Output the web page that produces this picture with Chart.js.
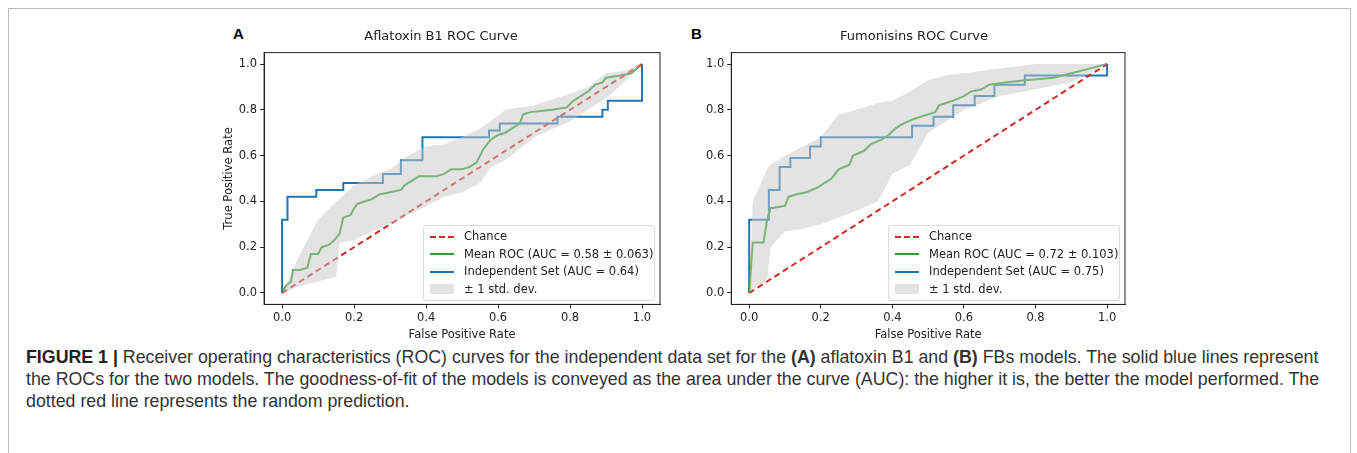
<!DOCTYPE html>
<html>
<head>
<meta charset="utf-8">
<script src="https://cdn.jsdelivr.net/npm/chart.js@4.4.1/dist/chart.umd.min.js"></script>
<style>
  body { margin: 0; width: 1357px; height: 453px; background: #fff; overflow: hidden; font-family: "Liberation Sans", Arial, sans-serif; }
  #frame { position: absolute; left: 8px; top: 8px; width: 1341px; height: 460px; border: 1px solid #bdbdbd; }
  .panel { position: absolute; top: 22px; height: 320px; }
  .tag { position: absolute; top: 25px; font: bold 15px "Liberation Sans", Arial, sans-serif; color: #000; }
  .legend { position: absolute; border: 1px solid #ddd; border-radius: 3px; background: rgba(255,255,255,0.85);
            font: 11.5px "DejaVu Sans", sans-serif; color: #222; padding: 2px 6px; }
  .legend div { height: 17.5px; line-height: 17.5px; white-space: nowrap; }
  .legend span { display: inline-block; width: 24px; margin-right: 10px; vertical-align: middle; }
  #caption { position: absolute; left: 26px; top: 346px; width: 1318px; font-size: 17.8px; line-height: 22px; color: #333; }
</style>
</head>
<body>
<div id="frame"></div>
<div class="tag" style="left:233px">A</div>
<div class="tag" style="left:691px">B</div>
<div class="panel" style="left:222px;width:441px"><canvas id="chartA"></canvas></div>
<div class="panel" style="left:689px;width:439px"><canvas id="chartB"></canvas></div>
<div class="legend" style="left:423px;top:225px;width:218px" id="legA"></div>
<div class="legend" style="left:888px;top:225px;width:218px" id="legB"></div>
<div id="caption"><b style="color:#222">FIGURE 1 |</b> Receiver operating characteristics (ROC) curves for the independent data set for the <b>(A)</b> aflatoxin B1 and <b>(B)</b> FBs models. The solid blue lines represent the ROCs for the two models. The goodness-of-fit of the models is conveyed as the area under the curve (AUC): the higher it is, the better the model performed. The dotted red line represents the random prediction.</div>
<script>
(function () {
    "use strict";

    const chanceX = [0, 1];
    const chanceY = [0, 1];

    // Panel A - aflatoxin B1
    const indepAX = [0, 0, 0.015, 0.015, 0.095, 0.095, 0.17, 0.17, 0.28, 0.28, 0.33, 0.33, 0.39, 0.39, 0.575, 0.575, 0.605, 0.605, 0.765, 0.765, 0.89, 0.89, 0.905, 0.905, 1, 1];
    const indepAY = [0, 0.32, 0.32, 0.42, 0.42, 0.45, 0.45, 0.48, 0.48, 0.52, 0.52, 0.58, 0.58, 0.68, 0.68, 0.71, 0.71, 0.74, 0.74, 0.77, 0.77, 0.80, 0.80, 0.84, 0.84, 1];
    const meanAX = [0, 0.01, 0.025, 0.03, 0.05, 0.07, 0.08, 0.1, 0.11, 0.13, 0.145, 0.16, 0.17, 0.19, 0.2, 0.21, 0.23, 0.25, 0.27, 0.3, 0.33, 0.34, 0.36, 0.38, 0.43, 0.45, 0.47, 0.5, 0.52, 0.54, 0.56, 0.58, 0.6, 0.62, 0.64, 0.66, 0.67, 0.69, 0.75, 0.79, 0.81, 0.83, 0.85, 0.87, 0.89, 0.9, 0.94, 0.97, 1];
    const meanAY = [0, 0.03, 0.05, 0.1, 0.1, 0.11, 0.17, 0.17, 0.2, 0.21, 0.23, 0.26, 0.33, 0.34, 0.37, 0.39, 0.4, 0.41, 0.43, 0.44, 0.45, 0.47, 0.49, 0.51, 0.51, 0.52, 0.54, 0.54, 0.55, 0.57, 0.63, 0.67, 0.69, 0.7, 0.72, 0.74, 0.78, 0.79, 0.8, 0.81, 0.84, 0.86, 0.88, 0.91, 0.92, 0.94, 0.95, 0.96, 1];
    const bandAX = [0, 0.05, 0.1, 0.15, 0.16, 0.2, 0.25, 0.3, 0.35, 0.4, 0.45, 0.5, 0.55, 0.58, 0.62, 0.7, 0.8, 0.85, 0.9, 0.95, 1];
    const bandAUpper = [0, 0.17, 0.32, 0.4, 0.41, 0.47, 0.51, 0.54, 0.6, 0.64, 0.65, 0.68, 0.72, 0.75, 0.8, 0.82, 0.87, 0.9, 0.96, 0.97, 1];
    const bandALower = [0, 0.03, 0.05, 0.07, 0.22, 0.23, 0.27, 0.3, 0.34, 0.38, 0.42, 0.44, 0.48, 0.55, 0.58, 0.68, 0.75, 0.8, 0.85, 0.92, 1];

    // Panel B - fumonisins
    const indepBX = [0, 0, 0.055, 0.055, 0.085, 0.085, 0.115, 0.115, 0.17, 0.17, 0.2, 0.2, 0.455, 0.455, 0.515, 0.515, 0.57, 0.57, 0.63, 0.63, 0.685, 0.685, 0.77, 0.77, 1, 1];
    const indepBY = [0, 0.32, 0.32, 0.45, 0.45, 0.55, 0.55, 0.59, 0.59, 0.64, 0.64, 0.68, 0.68, 0.73, 0.73, 0.77, 0.77, 0.82, 0.82, 0.86, 0.86, 0.91, 0.91, 0.95, 0.95, 1];
    const meanBX = [0, 0.01, 0.04, 0.05, 0.06, 0.1, 0.11, 0.13, 0.16, 0.19, 0.21, 0.23, 0.25, 0.28, 0.29, 0.32, 0.34, 0.37, 0.39, 0.41, 0.43, 0.46, 0.5, 0.52, 0.53, 0.57, 0.6, 0.62, 0.65, 0.67, 0.72, 0.78, 0.85, 0.9, 0.95, 1];
    const meanBY = [0, 0.22, 0.22, 0.32, 0.37, 0.38, 0.42, 0.43, 0.44, 0.46, 0.48, 0.5, 0.54, 0.56, 0.6, 0.62, 0.65, 0.67, 0.69, 0.72, 0.74, 0.76, 0.78, 0.79, 0.82, 0.84, 0.86, 0.88, 0.89, 0.91, 0.92, 0.93, 0.94, 0.96, 0.98, 1];
    const bandBX = [0, 0.01, 0.05, 0.06, 0.1, 0.15, 0.2, 0.25, 0.3, 0.36, 0.4, 0.45, 0.5, 0.55, 0.6, 0.7, 0.8, 0.9, 1];
    const bandBUpper = [0, 0.4, 0.54, 0.56, 0.6, 0.64, 0.68, 0.78, 0.8, 0.83, 0.84, 0.88, 0.93, 0.95, 0.96, 0.98, 1, 1, 1];
    const bandBLower = [0, 0.02, 0.05, 0.2, 0.27, 0.28, 0.3, 0.33, 0.36, 0.4, 0.52, 0.56, 0.7, 0.75, 0.8, 0.86, 0.89, 0.92, 1];

    const tickValues = [0, 0.2, 0.4, 0.6, 0.8, 1.0];

    const red = "#d62728", green = "#2ca02c", blue = "#1f77b4", band = "rgba(200, 200, 200, 0.5)";
    const font = "DejaVu Sans";

    const pts = (xs, ys) => xs.map((x, i) => ({ x, y: ys[i] }));

    const boxPlugin = {
        id: "box",
        afterDraw(chart) {
            const { ctx, chartArea: a } = chart;
            ctx.save();
            ctx.strokeStyle = "#222";
            ctx.lineWidth = 1;
            ctx.strokeRect(a.left, a.top, a.right - a.left, a.bottom - a.top);
            ctx.restore();
        }
    };

    function axis(title) {
        return {
            type: "linear",
            min: -0.05,
            max: 1.05,
            afterBuildTicks: (s) => { s.ticks = tickValues.map((v) => ({ value: v })); },
            ticks: { color: "#222", font: { family: font, size: 11.5 }, callback: (v) => v.toFixed(1), padding: 3 },
            grid: { display: true, drawOnChartArea: false, drawTicks: true, tickLength: 4, color: "#222" },
            border: { display: true, color: "#222" },
            title: { display: !!title, text: title, color: "#222", font: { family: font, size: 11.5 }, padding: { top: 0, bottom: 0 } }
        };
    }

    function makeChart(id, title, yTitle, band_, mean, indep) {
        new Chart(document.getElementById(id), {
            type: "line",
            data: {
                datasets: [
                    { data: pts(band_[0], band_[2]), borderWidth: 0, pointRadius: 0, fill: false },
                    { data: pts(band_[0], band_[1]), borderWidth: 0, pointRadius: 0, fill: "-1", backgroundColor: band },
                    { data: pts(chanceX, chanceY), borderColor: red, borderWidth: 2, borderDash: [6, 4], pointRadius: 0 },
                    { data: pts(mean[0], mean[1]), borderColor: green, borderWidth: 2, pointRadius: 0 },
                    { data: pts(indep[0], indep[1]), borderColor: blue, borderWidth: 2, pointRadius: 0 }
                ]
            },
            plugins: [boxPlugin],
            options: {
                responsive: true,
                maintainAspectRatio: false,
                animation: false,
                layout: { padding: { left: yTitle ? 0 : 14, right: 3, top: 0, bottom: 0 } },
                plugins: {
                    legend: { display: false },
                    tooltip: { enabled: false },
                    title: { display: true, text: title, color: "#222", font: { family: font, size: 13, weight: "normal" }, padding: { top: 7, bottom: 8 } }
                },
                scales: {
                    x: axis("False Positive Rate"),
                    y: axis(yTitle)
                }
            }
        });
    }

    function legend(id, meanLabel, indepLabel) {
        const rows = [
            ["border-top:2px dashed " + red, "Chance"],
            ["border-top:2px solid " + green, meanLabel],
            ["border-top:2px solid " + blue, indepLabel],
            ["height:10px;background:" + band, "\u00b1 1 std. dev."]
        ];
        document.getElementById(id).innerHTML = rows
            .map((r) => `<div><span style="${r[0]}"></span>${r[1]}</div>`).join("");
    }

    makeChart("chartA", "Aflatoxin B1 ROC Curve", "True Positive Rate", [bandAX, bandAUpper, bandALower], [meanAX, meanAY], [indepAX, indepAY]);
    makeChart("chartB", "Fumonisins ROC Curve", "", [bandBX, bandBUpper, bandBLower], [meanBX, meanBY], [indepBX, indepBY]);
    legend("legA", "Mean ROC (AUC = 0.58 \u00b1 0.063)", "Independent Set (AUC = 0.64)");
    legend("legB", "Mean ROC (AUC = 0.72 \u00b1 0.103)", "Independent Set (AUC = 0.75)");
}());
</script>
</body>
</html>
